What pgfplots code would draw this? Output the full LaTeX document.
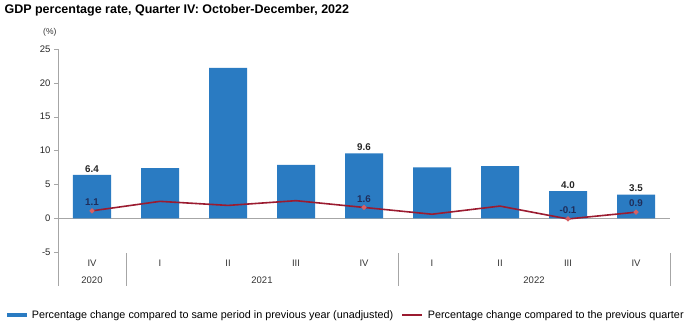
\documentclass[border=0pt]{standalone}
\usepackage{pgfplots}
\pgfplotsset{compat=1.18}
\usepackage{fontspec}
\setmainfont{Liberation Sans}
\definecolor{barblue}{RGB}{42,123,194}
\definecolor{linered}{RGB}{155,27,48}
\definecolor{markred}{RGB}{214,96,100}
\definecolor{navy}{RGB}{31,45,90}
\definecolor{axgray}{RGB}{166,166,166}
\begin{document}
\begin{tikzpicture}
\path[use as bounding box] (0pt,0pt) rectangle (687pt,323pt);
\node[anchor=west,font=\fontsize{12.5}{14}\selectfont\bfseries] at (1pt,313pt) {GDP percentage rate, Quarter IV: October-December, 2022};
\begin{axis}[
  at={(58pt,37pt)}, anchor=south west,
  scale only axis, width=612pt, height=237pt,
  xmin=-0.5, xmax=8.5, ymin=-10, ymax=25,
  axis y line*=left, axis x line=none,
  y axis line style={draw=axgray, -},
  ytick={-5,0,5,10,15,20,25},
  tick style={draw=axgray},
  tick align=outside, major tick length=4pt,
  yticklabel style={font=\fontsize{9.5}{10}\selectfont, text=black!85},
  /pgf/number format/assume math mode=true,
  extra y ticks={0}, extra y tick labels={},
  extra y tick style={grid=major, major grid style={draw=axgray, line width=0.8pt}, major tick length=0pt},
  clip=false,
  legend columns=2,
  legend style={at={(0.471,-0.122)}, anchor=center, draw=none, fill=none,
    font=\fontsize{10.8}{12}\selectfont, column sep=3pt,
    /tikz/every even column/.append style={column sep=6pt}},
]
\addplot[ybar, bar width=38pt, fill=barblue, draw=none,
  point meta=explicit symbolic,
  nodes near coords, every node near coord/.append style={font=\fontsize{9.8}{11}\selectfont\bfseries, text=black!85, yshift=-1pt},
  legend image code/.code={\fill[barblue] (0pt,-2pt) rectangle (20pt,2pt);}]
coordinates {(0,6.4)[6.4] (1,7.4)[] (2,22.2)[] (3,7.9)[] (4,9.6)[9.6] (5,7.5)[] (6,7.7)[] (7,4.0)[4.0] (8,3.5)[3.5]};
\addlegendentry{Percentage change compared to same period in previous year (unadjusted)}
\addplot[linered, line width=1.6pt, mark=*, mark indices={1,5,8,9},
  mark options={fill=markred, draw=markred, scale=0.8},
  point meta=explicit symbolic,
  nodes near coords, every node near coord/.append style={font=\fontsize{9.8}{11}\selectfont\bfseries, text=navy, yshift=1pt},
  legend image code/.code={\draw[linered, line width=1.6pt] (0pt,0pt) -- (20pt,0pt);}]
coordinates {(0,1.1)[1.1] (1,2.5)[] (2,1.9)[] (3,2.6)[] (4,1.6)[1.6] (5,0.6)[] (6,1.8)[] (7,-0.1)[-0.1] (8,0.9)[0.9]};
\addlegendentry{Percentage change compared to the previous quarter}
% category labels
\foreach \i/\q in {0/IV,1/I,2/II,3/III,4/IV,5/I,6/II,7/III,8/IV}{
  \edef\tmp{\noexpand\node[font=\noexpand\fontsize{9.5}{10}\noexpand\selectfont, text=black!80] at (axis cs:\i,-6.65) {\q};}\tmp
}
\node[font=\fontsize{9.5}{10}\selectfont, text=black!80] at (axis cs:0,-9.2) {2020};
\node[font=\fontsize{9.5}{10}\selectfont, text=black!80] at (axis cs:2.5,-9.2) {2021};
\node[font=\fontsize{9.5}{10}\selectfont, text=black!80] at (axis cs:6.5,-9.2) {2022};
\draw[axgray, line width=0.8pt] (axis cs:0.5,-5.2) -- (axis cs:0.5,-10);
\draw[axgray, line width=0.8pt] (axis cs:4.5,-5.2) -- (axis cs:4.5,-10);
\draw[axgray, line width=0.8pt] (axis cs:8.5,-5.2) -- (axis cs:8.5,-10);
\node[font=\fontsize{8.5}{10}\selectfont, text=black!80] at (axis cs:-0.62,27.5) {(\%)};
\end{axis}
\end{tikzpicture}
\end{document}
